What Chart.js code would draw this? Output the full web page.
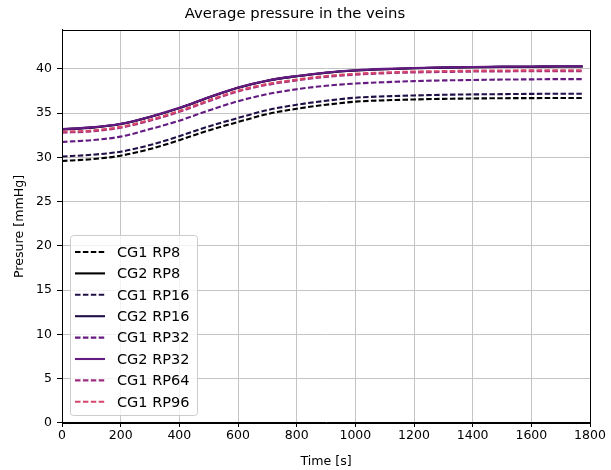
<!DOCTYPE html>
<html>
<head>
<meta charset="utf-8">
<script src="https://cdn.jsdelivr.net/npm/chart.js@4.4.1/dist/chart.umd.min.js"></script>
<style>
  html, body { margin: 0; padding: 0; background: #fff; }
  #wrap { width: 611px; height: 470px; }
</style>
</head>
<body>
<div id="wrap"><canvas id="chart" width="611" height="470"></canvas></div>
<script>
// Time samples [s]
const times = [0, 100, 200, 300, 400, 500, 600, 700, 800, 900, 1000, 1100, 1200, 1300, 1400, 1500, 1600, 1700, 1775];

// Pressure [mmHg] per simulation
const cg1Rp8  = [29.6, 29.8, 30.2, 30.95, 31.95, 33.05, 34.0, 34.9, 35.5, 35.95, 36.3, 36.45, 36.55, 36.62, 36.66, 36.69, 36.7, 36.72, 36.72];
const cg2Rp8  = [33.17, 33.37, 33.77, 34.57, 35.57, 36.77, 37.87, 38.67, 39.17, 39.57, 39.82, 39.97, 40.07, 40.14, 40.19, 40.23, 40.25, 40.27, 40.27];
const cg1Rp16 = [30.1, 30.3, 30.65, 31.4, 32.4, 33.5, 34.45, 35.35, 35.95, 36.4, 36.75, 36.9, 37.0, 37.08, 37.12, 37.15, 37.18, 37.2, 37.2];
const cg2Rp16 = [33.17, 33.37, 33.77, 34.57, 35.57, 36.77, 37.87, 38.67, 39.17, 39.57, 39.82, 39.97, 40.07, 40.14, 40.19, 40.23, 40.25, 40.27, 40.27];
const cg1Rp32 = [31.75, 31.95, 32.35, 33.2, 34.15, 35.3, 36.35, 37.15, 37.7, 38.1, 38.35, 38.5, 38.62, 38.7, 38.75, 38.8, 38.82, 38.85, 38.85];
const cg2Rp32 = [33.2, 33.4, 33.8, 34.6, 35.6, 36.8, 37.9, 38.7, 39.2, 39.6, 39.85, 40.0, 40.1, 40.17, 40.22, 40.26, 40.28, 40.3, 40.3];
const cg1Rp64 = [32.8, 32.95, 33.35, 34.15, 35.15, 36.35, 37.45, 38.2, 38.7, 39.1, 39.35, 39.5, 39.6, 39.65, 39.7, 39.72, 39.74, 39.75, 39.75];
const cg1Rp96 = [32.9, 33.05, 33.45, 34.25, 35.25, 36.45, 37.55, 38.3, 38.8, 39.2, 39.45, 39.6, 39.7, 39.75, 39.8, 39.82, 39.84, 39.85, 39.85];

const seriesNames = ['CG1 RP8', 'CG2 RP8', 'CG1 RP16', 'CG2 RP16', 'CG1 RP32', 'CG2 RP32', 'CG1 RP64', 'CG1 RP96'];
const seriesData = [cg1Rp8, cg2Rp8, cg1Rp16, cg2Rp16, cg1Rp32, cg2Rp32, cg1Rp64, cg1Rp96];
const seriesColors = ['#000000', '#000000', '#201048', '#201048', '#641a80', '#641a80', '#9b2e7f', '#d6456c'];
const seriesDashed = [true, false, true, false, true, false, true, true];

const xTicks = [0, 200, 400, 600, 800, 1000, 1200, 1400, 1600, 1800];
const yTicks = [0, 5, 10, 15, 20, 25, 30, 35, 40];

const FONT = "'DejaVu Sans', sans-serif";
const DASH = [5.5, 2.4];

const datasets = seriesNames.map((name, i) => ({
    label: name,
    data: times.map((t, j) => ({ x: t, y: seriesData[i][j] })),
    borderColor: seriesColors[i],
    borderWidth: 2.1,
    borderDash: seriesDashed[i] ? DASH : [],
    pointRadius: 0,
    fill: false,
    cubicInterpolationMode: 'monotone',
    order: seriesNames.length - 1 - i
}));

// frame round the axes + legend box in the lower left
const framePlugin = {
    id: 'frameAndLegend',
    afterDraw(chart) {
        const { ctx, chartArea: a } = chart;
        ctx.save();
        ctx.strokeStyle = '#000';
        ctx.lineWidth = 1;
        ctx.setLineDash([]);
        ctx.strokeRect(Math.round(a.left) + 0.5, Math.round(a.top) + 0.5,
            Math.round(a.right - a.left), Math.round(a.bottom - a.top));

        // legend
        const rowH = 21.4;
        const boxX = a.left + 8, boxW = 127;
        const boxH = 180;
        const boxY = a.bottom - 8 - boxH;
        ctx.beginPath();
        ctx.roundRect(boxX + 0.5, boxY + 0.5, boxW, boxH, 3);
        ctx.fillStyle = 'rgba(255,255,255,0.8)';
        ctx.fill();
        ctx.strokeStyle = '#cccccc';
        ctx.stroke();

        ctx.font = '14.5px ' + FONT;
        ctx.textBaseline = 'middle';
        ctx.textAlign = 'left';
        seriesNames.forEach((name, i) => {
            const y = boxY + 17 + i * rowH;
            ctx.beginPath();
            ctx.strokeStyle = seriesColors[i];
            ctx.lineWidth = 2.1;
            ctx.setLineDash(seriesDashed[i] ? DASH : []);
            ctx.moveTo(boxX + 5, y);
            ctx.lineTo(boxX + 35, y);
            ctx.stroke();
            ctx.setLineDash([]);
            ctx.fillStyle = '#000';
            ctx.fillText(name, boxX + 47, y + 1);
        });
        ctx.restore();
    }
};

const ctx = document.getElementById('chart').getContext('2d');
const chart = new Chart(ctx, {
    type: 'line',
    data: { datasets: datasets },
    options: {
        responsive: false,
        animation: false,
        layout: { padding: { top: 0, right: 21, bottom: 0, left: 0 } },
        plugins: {
            legend: { display: false },
            tooltip: { enabled: false },
            title: {
                display: true,
                text: 'Average pressure in the veins',
                color: '#000',
                font: { family: FONT, size: 14.8, weight: 'normal' },
                padding: { top: 5.5, bottom: 6.7 }
            }
        },
        scales: {
            x: {
                type: 'linear',
                min: 0,
                max: 1800,
                afterBuildTicks: s => { s.ticks = xTicks.map(v => ({ value: v })); },
                afterFit: s => { s.height = 47; },
                ticks: {
                    color: '#000',
                    font: { family: FONT, size: 12.5, lineHeight: 1 },
                    padding: 2,
                    maxRotation: 0,
                    callback: v => String(v)
                },
                grid: { color: '#c4c4c4', lineWidth: 1, tickColor: '#000', tickLength: 4 },
                border: { color: '#000', width: 1 },
                title: {
                    display: true,
                    text: 'Time [s]',
                    color: '#000',
                    font: { family: FONT, size: 12.6 },
                    padding: { top: 0, bottom: 1 }
                }
            },
            y: {
                min: 0,
                max: 44.4,
                afterBuildTicks: s => { s.ticks = yTicks.map(v => ({ value: v })); },
                afterFit: s => { s.width = 62; },
                ticks: {
                    color: '#000',
                    font: { family: FONT, size: 12.5 },
                    padding: 5,
                    callback: v => String(v)
                },
                grid: { color: '#c4c4c4', lineWidth: 1, tickColor: '#000', tickLength: 5 },
                border: { color: '#000', width: 1 },
                title: {
                    display: true,
                    text: 'Presure [mmHg]',
                    color: '#000',
                    font: { family: FONT, size: 12.6 },
                    padding: { top: 12, bottom: 0 }
                }
            }
        }
    },
    plugins: [framePlugin]
});
</script>
</body>
</html>
